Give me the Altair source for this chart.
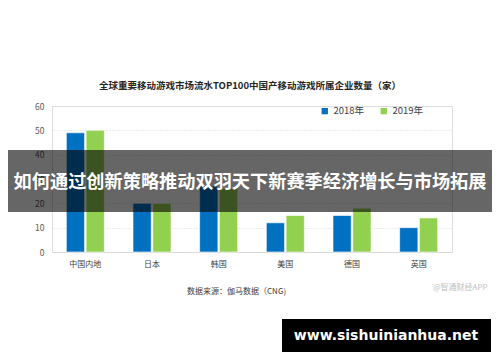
import altair as alt
import pandas as pd

regions = ["中国内地", "日本", "韩国", "美国", "德国", "英国"]
v2018 = [49, 20, 27, 12, 15, 10]
v2019 = [50, 20, 26, 15, 18, 14]
years = ["2018年", "2019年"]
colors = ["#0070C0", "#92D050"]

rows = []
for i, r in enumerate(regions):
    rows.append({"region": r, "year": years[0], "value": v2018[i]})
    rows.append({"region": r, "year": years[1], "value": v2019[i]})
df = pd.DataFrame(rows)
one = pd.DataFrame({"k": [0]})

title_text = "全球重要移动游戏市场流水TOP100中国产移动游戏所属企业数量（家）"
banner_text = "如何通过创新策略推动双羽天下新赛季经济增长与市场拓展"
source_text = "数据来源：伽马数据（CNG)"
credit_text = "@智通财经APP"
site_text = "www.sishuinianhua.net"

W, H = 400, 146
font = "Noto Sans CJK SC"

bars = alt.Chart(df).mark_bar(stroke="white", strokeWidth=0.6).encode(
    x=alt.X("region:N", sort=regions,
            scale=alt.Scale(paddingInner=0.43, paddingOuter=0.215),
            axis=alt.Axis(title=None, labelAngle=0, ticks=False, labelPadding=8,
                          labelFontSize=8, labelColor="#404040", labelFont=font,
                          domainColor="#d9d9d9")),
    xOffset=alt.XOffset("year:N", scale=alt.Scale(paddingInner=0.08)),
    y=alt.Y("value:Q", scale=alt.Scale(domain=[0, 60]),
            axis=alt.Axis(title=None, values=[0, 10, 20, 30, 40, 50, 60],
                          domain=False, ticks=False, labelPadding=8,
                          labelFontSize=8.5, labelColor="#595959", labelFont=font,
                          gridColor="#d9d9d9", gridDash=[1, 2])),
    color=alt.Color("year:N", scale=alt.Scale(domain=years, range=colors),
                    legend=alt.Legend(title=None, orient="none", legendX=268, legendY=0,
                                      direction="horizontal", symbolType="square",
                                      symbolSize=40, labelFontSize=9.5, labelFont=font,
                                      labelColor="#404040", columnPadding=14,
                                      symbolStrokeWidth=0)),
)

title = alt.Chart(one).mark_text(text=title_text, font=font, fontSize=9.5,
                                  fontWeight="bold", color="#262626").encode(
    x=alt.value(198), y=alt.value(-20))

source = alt.Chart(one).mark_text(text=source_text, font=font, fontSize=8,
                                   color="#404040", align="left").encode(
    x=alt.value(135), y=alt.value(186))

credit = alt.Chart(one).mark_text(text=credit_text, font=font, fontSize=8,
                                   color="#c0c0c0", align="left").encode(
    x=alt.value(381), y=alt.value(182))

banner = alt.Chart(one).mark_rect(color="black", opacity=0.6).encode(
    x=alt.value(-49), x2=alt.value(445), y=alt.value(44), y2=alt.value(106))

banner_label = alt.Chart(one).mark_text(text=banner_text, font=font, fontSize=18.2,
                                         fontWeight="bold", color="white").encode(
    x=alt.value(198), y=alt.value(77))

site_box = alt.Chart(one).mark_rect(color="black").encode(
    x=alt.value(230), x2=alt.value(439), y=alt.value(213), y2=alt.value(247))

site_label = alt.Chart(one).mark_text(text=site_text, font="DejaVu Sans", fontSize=14,
                                       fontWeight="bold", color="white").encode(
    x=alt.value(334), y=alt.value(230))

chart = alt.layer(bars, title, source, credit, banner, banner_label, site_box, site_label).properties(
    width=W, height=H,
    autosize=alt.AutoSizeParams(type="none"),
    padding={"left": 44, "top": 98, "right": 40, "bottom": 100},
).configure_view(stroke=None).configure(background="white")

chart.save("out.html", embed_options={"renderer": "svg", "actions": False})
